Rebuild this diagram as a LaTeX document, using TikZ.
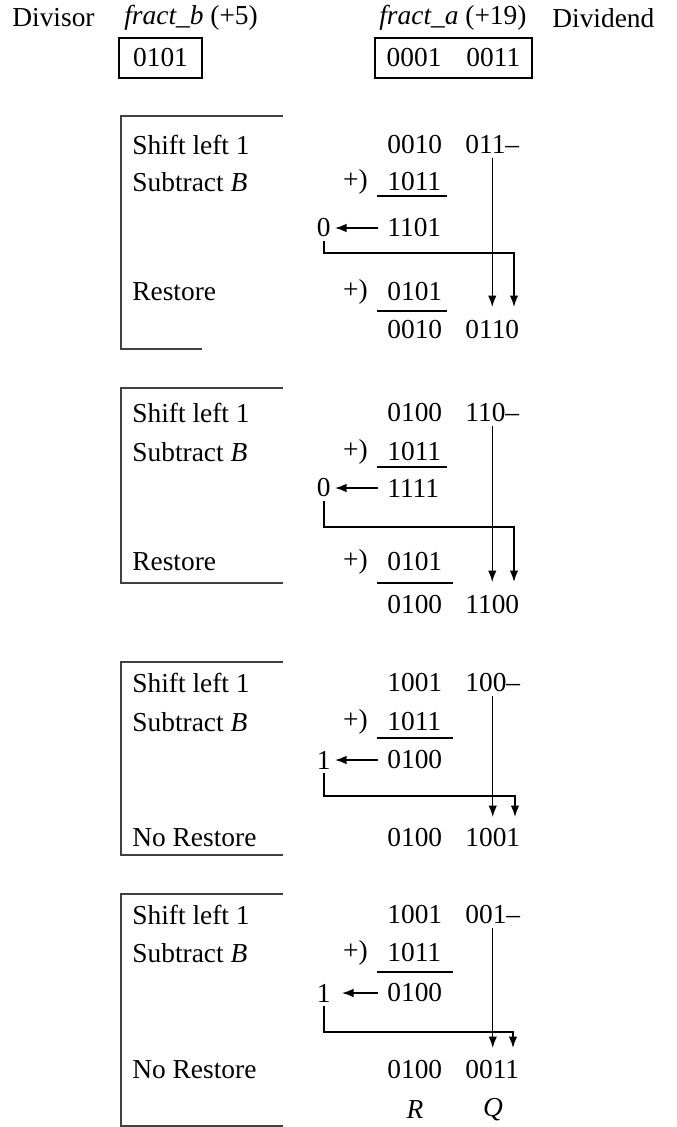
\documentclass[tikz,border=0pt]{standalone}
\usepackage{fontspec}
\setmainfont{Liberation Serif}
\usetikzlibrary{arrows.meta}

\begin{document}
\begin{tikzpicture}[
    font=\fontsize{15.6}{18}\selectfont,
    txt/.style={anchor=west, inner sep=0pt},
    sgn/.style={anchor=east, inner sep=0pt},
    reg/.style={draw, line width=0.8pt, minimum height=0.8cm, inner sep=0pt},
    frm/.style={line width=0.9pt, black!75},
    rul/.style={line width=0.8pt},
    arr/.style={-{Latex[length=2.3mm,width=1.7mm]}, line width=0.8pt},
    bit/.style={arr, shorten <=0.18cm, shorten >=0.08cm}
]
\useasboundingbox (0,0) rectangle (13.54,-22.54);

% registers
\node[txt] (dvs) at (0.24,-0.36) {Divisor};
\node[txt] (nb) at (2.48,-0.36) {\textit{fract\_b} (+5)};
\node[txt] (na) at (7.58,-0.36) {\textit{fract\_a} (+19)};
\node[txt] (dvd) at (11.04,-0.36) {Dividend};
\node[reg, minimum width=1.66cm] (rb) at (3.21,-1.16) {0101};
\node[reg, minimum width=3.14cm] (ra) at (9.07,-1.16) {0001\hspace{0.5cm}0011};

% step 1
\draw[frm] (5.66,-2.32) -| (2.42,-6.98) -- (4.04,-6.98);
\node[txt] (shl1) at (2.64,-2.90) {Shift left 1};
\node[txt] (sub1) at (2.64,-3.64) {Subtract \textit{B}};
\node[txt] (rst1) at (2.64,-5.84) {Restore};
\node[txt] (ah1) at (7.74,-2.90) {0010};
\node[txt] (al1) at (9.30,-2.90) {011--};
\node[sgn] (pl1) at (7.36,-3.64) {+)};
\node[txt] (b1) at (7.74,-3.64) {1011};
\draw[rul] (7.54,-3.92) -- (8.94,-3.92);
\node[txt] (d1) at (7.74,-4.56) {1101};
\node[sgn] (c1) at (6.62,-4.56) {0};
\node[sgn] (pr1) at (7.36,-5.84) {+)};
\node[txt] (bb1) at (7.74,-5.84) {0101};
\draw[rul] (7.54,-6.22) -- (8.94,-6.22);
\node[txt] (fh1) at (7.74,-6.60) {0010};
\node[txt] (fl1) at (9.30,-6.60) {0110};
\coordinate (j1) at (10.28,-5.06);
\coordinate (q1) at (10.28,-6.14);
\draw[bit] (d1) -- (c1);
\draw[arr] ([yshift=-2pt]c1.south) |- (j1) -- (q1);
\draw[arr] ([yshift=-2pt]al1.south) -- (al1.south |- q1);

% step 2
\draw[frm] (5.66,-7.76) -| (2.42,-11.66) -- (5.66,-11.66);
\node[txt] (shl2) at (2.64,-8.26) {Shift left 1};
\node[txt] (sub2) at (2.64,-9.04) {Subtract \textit{B}};
\node[txt] (rst2) at (2.64,-11.24) {Restore};
\node[txt] (ah2) at (7.74,-8.26) {0100};
\node[txt] (al2) at (9.30,-8.26) {110--};
\node[sgn] (pl2) at (7.36,-9.04) {+)};
\node[txt] (b2) at (7.74,-9.04) {1011};
\draw[rul] (7.54,-9.34) -- (8.94,-9.34);
\node[txt] (d2) at (7.74,-9.76) {1111};
\node[sgn] (c2) at (6.62,-9.76) {0};
\node[sgn] (pr2) at (7.36,-11.24) {+)};
\node[txt] (bb2) at (7.74,-11.24) {0101};
\draw[rul] (7.54,-11.66) -- (9.06,-11.66);
\node[txt] (fh2) at (7.74,-12.10) {0100};
\node[txt] (fl2) at (9.30,-12.10) {1100};
\coordinate (j2) at (10.28,-10.54);
\coordinate (q2) at (10.28,-11.64);
\draw[bit] (d2) -- (c2);
\draw[arr] ([yshift=-2pt]c2.south) |- (j2) -- (q2);
\draw[arr] ([yshift=-2pt]al2.south) -- (al2.south |- q2);

% step 3
\draw[frm] (5.66,-13.24) -| (2.42,-17.10) -- (5.66,-17.10);
\node[txt] (shl3) at (2.64,-13.66) {Shift left 1};
\node[txt] (sub3) at (2.64,-14.44) {Subtract \textit{B}};
\node[txt] (rst3) at (2.64,-16.76) {No Restore};
\node[txt] (ah3) at (7.74,-13.66) {1001};
\node[txt] (al3) at (9.30,-13.66) {100--};
\node[sgn] (pl3) at (7.36,-14.44) {+)};
\node[txt] (b3) at (7.74,-14.44) {1011};
\draw[rul] (7.54,-14.76) -- (9.06,-14.76);
\node[txt] (d3) at (7.74,-15.20) {0100};
\node[sgn] (c3) at (6.62,-15.20) {1};
\node[txt] (fh3) at (7.74,-16.76) {0100};
\node[txt] (fl3) at (9.30,-16.76) {1001};
\coordinate (j3) at (10.30,-15.92);
\coordinate (q3) at (10.30,-16.34);
\draw[bit] (d3) -- (c3);
\draw[arr] ([yshift=-2pt]c3.south) |- (j3) -- (q3);
\draw[arr] ([yshift=-2pt]al3.south) -- (al3.south |- q3);

% step 4
\draw[frm] (5.66,-17.88) -| (2.42,-22.52) -- (5.66,-22.52);
\node[txt] (shl4) at (2.64,-18.30) {Shift left 1};
\node[txt] (sub4) at (2.64,-19.06) {Subtract \textit{B}};
\node[txt] (rst4) at (2.64,-21.40) {No Restore};
\node[txt] (ah4) at (7.74,-18.30) {1001};
\node[txt] (al4) at (9.30,-18.30) {001--};
\node[sgn] (pl4) at (7.36,-19.06) {+)};
\node[txt] (b4) at (7.74,-19.06) {1011};
\draw[rul] (7.54,-19.44) -- (9.06,-19.44);
\node[txt] (d4) at (7.74,-19.86) {0100};
\node[sgn] (c4) at (6.62,-19.86) {1};
\node[txt] (fh4) at (7.74,-21.40) {0100};
\node[txt] (fl4) at (9.30,-21.40) {0011};
\node[inner sep=0pt] (rem) at (8.30,-22.20) {\textit{R}};
\node[inner sep=0pt] (quo) at (9.86,-22.20) {\textit{Q}};
\coordinate (j4) at (10.26,-20.64);
\coordinate (q4) at (10.26,-20.96);
\draw[arr, shorten <=0.18cm, shorten >=0.22cm] (d4) -- (c4);
\draw[arr] ([yshift=-2pt]c4.south) |- (j4) -- (q4);
\draw[arr] ([yshift=-2pt]al4.south) -- (al4.south |- q4);
\end{tikzpicture}
\end{document}
